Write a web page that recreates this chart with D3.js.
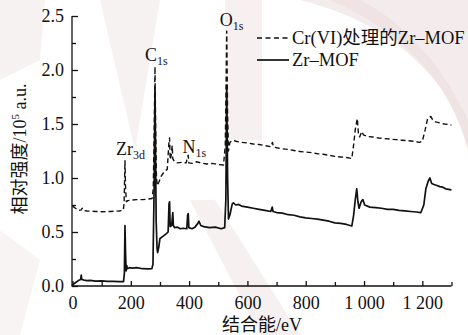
<!DOCTYPE html>
<html>
<head>
<meta charset="utf-8">
<script src="https://cdn.jsdelivr.net/npm/d3@7/dist/d3.min.js"></script>
<style>
  html, body { margin: 0; padding: 0; background: #fff; }
  svg { display: block; }
  text { font-family: "Liberation Serif", "Times New Roman", "Noto Sans CJK SC", serif; fill: #111; }
</style>
</head>
<body>
<svg id="chart" width="468" height="335"></svg>
<script>
// XPS survey spectra: binding energy (eV) and relative intensity (10^5 a.u.)
const zrMofEnergy = [0,10,20,28,30,32,40,50,60,80,100,120,140,160,175,178,180,182,184,186,188,195,205,220,240,260,272,276,280,283,285,287,290,292,296,300,310,320,328,331,333,335,340,344,346,350,360,370,380,392,395,397,399,410,420,430,434,440,450,470,490,510,522,526,529,532,535,540,548,552,560,570,580,600,620,640,660,680,685,688,700,720,740,760,780,800,820,840,860,880,900,920,940,958,964,970,975,979,983,990,996,1002,1020,1040,1060,1080,1100,1120,1140,1160,1180,1195,1205,1212,1220,1226,1232,1240,1250,1260,1270,1280,1290,1300];
const zrMofIntensity = [0.01,0.03,0.05,0.06,0.10,0.06,0.055,0.05,0.052,0.045,0.047,0.043,0.042,0.04,0.04,0.12,0.56,0.30,0.14,0.19,0.16,0.17,0.165,0.17,0.16,0.158,0.16,0.20,0.90,1.83,1.20,0.60,0.35,0.31,0.36,0.44,0.46,0.48,0.50,0.76,0.78,0.55,0.56,0.68,0.56,0.54,0.545,0.53,0.535,0.53,0.66,0.67,0.54,0.53,0.545,0.58,0.60,0.56,0.55,0.54,0.545,0.53,0.54,0.80,1.86,1.00,0.62,0.66,0.76,0.77,0.75,0.755,0.74,0.73,0.72,0.71,0.70,0.69,0.73,0.69,0.68,0.675,0.66,0.655,0.64,0.63,0.625,0.62,0.61,0.60,0.585,0.58,0.57,0.555,0.65,0.80,0.90,0.78,0.72,0.78,0.80,0.75,0.73,0.725,0.72,0.71,0.71,0.70,0.695,0.69,0.685,0.68,0.75,0.90,0.97,1.00,0.95,0.94,0.93,0.92,0.915,0.90,0.895,0.89];

const crEnergy = [0,5,10,20,30,33,36,50,80,100,130,160,174,177,180,182,185,190,200,220,240,260,273,277,280,283,285,288,291,296,305,315,325,331,333,335,338,342,344,350,360,375,390,395,397,399,410,425,440,460,480,500,518,524,527,529,532,535,540,545,552,560,580,600,620,640,660,680,686,689,700,720,740,760,780,800,820,840,860,880,900,920,940,958,964,970,977,981,985,992,998,1010,1030,1050,1070,1090,1110,1130,1150,1170,1190,1200,1210,1218,1229,1235,1245,1260,1275,1290,1300];
const crIntensity = [0.74,0.73,0.72,0.70,0.705,0.72,0.70,0.695,0.69,0.688,0.69,0.695,0.70,0.76,1.16,0.90,0.78,0.79,0.795,0.80,0.80,0.805,0.81,0.90,1.40,2.03,1.50,1.00,0.93,0.96,1.02,1.06,1.08,1.34,1.37,1.17,1.20,1.30,1.18,1.15,1.14,1.145,1.14,1.20,1.21,1.14,1.135,1.15,1.14,1.13,1.135,1.125,1.12,1.30,1.90,2.36,1.60,1.25,1.33,1.34,1.35,1.34,1.33,1.325,1.315,1.31,1.30,1.29,1.33,1.29,1.28,1.27,1.265,1.255,1.245,1.24,1.235,1.225,1.22,1.21,1.20,1.195,1.19,1.18,1.30,1.45,1.55,1.40,1.38,1.43,1.40,1.385,1.38,1.37,1.365,1.36,1.355,1.35,1.345,1.34,1.33,1.34,1.45,1.55,1.57,1.54,1.52,1.51,1.50,1.495,1.49];

// Axis ticks and peak annotations
const xMajorTicks = [0,200,400,600,800,1000,1200];
const xMinorTicks = [100,300,500,700,900,1100,1300];
const yMajorTicks = [0,0.5,1.0,1.5,2.0,2.5];
const yMinorTicks = [0.25,0.75,1.25,1.75,2.25];
const peakNames = ["Zr", "C", "N", "O"];
const peakSubs = ["3d", "1s", "1s", "1s"];
const peakEnergy = [149, 249, 377, 505];
const peakLevel = [1.21, 2.08, 1.23, 2.41];
const legendLabels = ["Cr(VI)处理的Zr\u2013MOF", "Zr\u2013MOF"];

const svg = d3.select("#chart");
const x = d3.scaleLinear().domain([0, 1300]).range([72.5, 451.5]);
const y = d3.scaleLinear().domain([0, 2.5]).range([286, 16]);

// faint background decoration
const deco = svg.append("g").attr("fill", "#f4ecec");
deco.append("path").attr("d", "M300,0 L468,0 L468,130 C430,60 380,20 300,0 Z");
deco.append("path").attr("d", "M330,0 C400,30 450,80 468,150 L468,120 C440,60 400,20 360,0 Z").attr("fill", "#efe3e3");
deco.append("path").attr("d", "M225,0 L262,0 L262,140 L225,140 Z").attr("opacity", 0.8);
deco.append("path").attr("d", "M0,0 L45,0 L40,60 L0,80 Z").attr("opacity", 0.7);
deco.append("path").attr("d", "M100,0 L160,0 L135,150 Z").attr("opacity", 0.7);
deco.append("path").attr("d", "M190,200 L215,200 L300,335 L260,335 Z").attr("opacity", 0.8);
deco.append("path").attr("d", "M0,230 L40,260 L20,335 L0,335 Z").attr("opacity", 0.6);

const fmtK = d3.formatLocale({ decimal: ".", thousands: " ", grouping: [3], currency: ["", ""] }).format(",");

// x axis
const gx = svg.append("g").attr("transform", "translate(0,286)");
gx.call(d3.axisBottom(x).tickValues(xMajorTicks).tickSize(-5).tickPadding(10).tickFormat(fmtK));
gx.append("g").call(d3.axisBottom(x).tickValues(xMinorTicks).tickSize(-4).tickFormat(""))
  .select(".domain").remove();
gx.selectAll(".domain").attr("d", `M${x(0) - 1},0H${x(1300)}`);

// y axis
const gy = svg.append("g").attr("transform", `translate(${x(0) - 0.5},0)`);
gy.call(d3.axisLeft(y).tickValues(yMajorTicks).tickSize(-6).tickPadding(8).tickFormat(d3.format(".1f")));
gy.append("g").call(d3.axisLeft(y).tickValues(yMinorTicks).tickSize(-4).tickFormat(""))
  .select(".domain").remove();
gy.selectAll(".domain").attr("d", `M0,${y(0)}V${y(2.5)}`);

svg.selectAll(".tick text").style("font-size", "18px").attr("fill", "#111");
svg.selectAll(".tick line, .domain").attr("stroke", "#111").attr("stroke-width", 1.3);

// spectra
const line = d3.line().x(d => x(d[0])).y(d => y(d[1]));
const crData = crEnergy.map((e, i) => [e, crIntensity[i]]);
const zrData = zrMofEnergy.map((e, i) => [e, zrMofIntensity[i]]);

svg.append("path").datum(crData).attr("d", line)
  .attr("fill", "none").attr("stroke", "#111").attr("stroke-width", 1.4)
  .attr("stroke-dasharray", "5,3").attr("stroke-linejoin", "round");
svg.append("path").datum(zrData).attr("d", line)
  .attr("fill", "none").attr("stroke", "#111").attr("stroke-width", 1.7)
  .attr("stroke-linejoin", "round");

// peak annotations
peakNames.forEach((n, i) => {
  const t = svg.append("text").attr("x", x(peakEnergy[i])).attr("y", y(peakLevel[i]))
    .style("font-size", "18px");
  t.append("tspan").text(n);
  t.append("tspan").attr("dy", 4).style("font-size", "12px").text(peakSubs[i]);
});

// legend
const lg = svg.append("g");
legendLabels.forEach((lab, i) => {
  const ly = 38 + i * 22;
  lg.append("line").attr("x1", 257).attr("x2", 289).attr("y1", ly).attr("y2", ly)
    .attr("stroke", "#111").attr("stroke-width", i === 0 ? 1.4 : 1.7)
    .attr("stroke-dasharray", i === 0 ? "5,3.5" : null);
  lg.append("text").attr("x", 292).attr("y", ly + 6).style("font-size", "18.5px").text(lab);
});

// axis titles
svg.append("text").attr("transform", "translate(26,149) rotate(-90)")
  .attr("text-anchor", "middle").style("font-size", "18px")
  .html('相对强度/10<tspan dy="-7" font-size="11px">5</tspan><tspan dy="7"> a.u.</tspan>');
svg.append("text").attr("x", 262).attr("y", 331).attr("text-anchor", "middle")
  .style("font-size", "18px").text("结合能/eV");
</script>
</body>
</html>
